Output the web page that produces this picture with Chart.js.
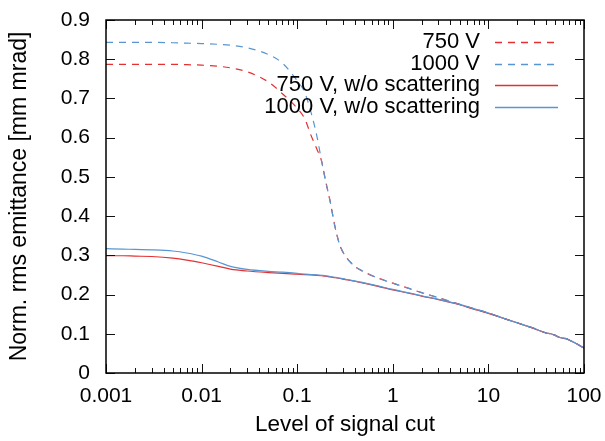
<!DOCTYPE html>
<html>
<head>
<meta charset="utf-8">
<title>Normalized rms emittance vs. signal cut</title>
<script src="https://cdn.jsdelivr.net/npm/chart.js@4/dist/chart.umd.min.js"></script>
<style>
  html, body { margin: 0; padding: 0; background: #fff; }
  #wrap { width: 605px; height: 441px; }
</style>
</head>
<body>
<div id="wrap"><canvas id="c" width="605" height="441"></canvas></div>
<script>
// Level of signal cut (x, log scale)
const cutLevels = [0.001, 0.0015, 0.002, 0.003, 0.005, 0.007, 0.01, 0.015, 0.02, 0.03, 0.05, 0.07,
  0.1, 0.12, 0.14, 0.16, 0.18, 0.2, 0.22, 0.25, 0.28, 0.32, 0.4, 0.5, 0.7,
  1, 1.5, 2, 3, 5, 7, 10, 15, 20, 25, 30, 35, 40, 45, 50, 55, 60, 65, 70, 80, 90, 100];

// Normalized rms emittance [mm mrad]
const emit750 = [0.787, 0.787, 0.787, 0.787, 0.787, 0.786, 0.785, 0.782, 0.778, 0.768, 0.742, 0.712,
  0.675, 0.648, 0.605, 0.572, 0.540, 0.485, 0.440, 0.370, 0.325, 0.298, 0.272, 0.258, 0.242,
  0.229, 0.215, 0.205, 0.192, 0.175, 0.164, 0.153, 0.138, 0.128, 0.120, 0.114, 0.107, 0.102, 0.100,
  0.096, 0.091, 0.089, 0.088, 0.084, 0.077, 0.070, 0.063];
const emit1000 = [0.843, 0.843, 0.843, 0.843, 0.842, 0.841, 0.840, 0.838, 0.836, 0.829, 0.812, 0.790,
  0.745, 0.715, 0.663, 0.606, 0.540, 0.485, 0.440, 0.370, 0.325, 0.298, 0.272, 0.258, 0.242,
  0.229, 0.215, 0.205, 0.192, 0.175, 0.164, 0.153, 0.138, 0.128, 0.120, 0.114, 0.107, 0.102, 0.100,
  0.096, 0.091, 0.089, 0.088, 0.084, 0.077, 0.070, 0.064];
const emit750NoScatter = [0.299, 0.299, 0.298, 0.297, 0.293, 0.288, 0.281, 0.272, 0.265, 0.260, 0.256, 0.254,
  0.252, 0.251, 0.250, 0.249, 0.248, 0.247, 0.245, 0.243, 0.241, 0.238, 0.234, 0.229, 0.221,
  0.212, 0.203, 0.196, 0.187, 0.174, 0.163, 0.152, 0.138, 0.128, 0.120, 0.113, 0.107, 0.102, 0.100,
  0.096, 0.091, 0.089, 0.087, 0.084, 0.077, 0.070, 0.063];
const emit1000NoScatter = [0.317, 0.316, 0.315, 0.314, 0.311, 0.306, 0.298, 0.283, 0.272, 0.264, 0.259, 0.257,
  0.254, 0.252, 0.251, 0.250, 0.249, 0.248, 0.246, 0.244, 0.242, 0.239, 0.235, 0.230, 0.222,
  0.213, 0.204, 0.197, 0.188, 0.175, 0.164, 0.153, 0.138, 0.128, 0.120, 0.114, 0.107, 0.102, 0.100,
  0.096, 0.091, 0.089, 0.088, 0.084, 0.077, 0.070, 0.064];

const seriesLabels = ['750 V', '1000 V', '750 V, w/o scattering', '1000 V, w/o scattering'];
const xTickLabels = ['0.001', '0.01', '0.1', '1', '10', '100'];
const yTickLabels = ['0', '0.1', '0.2', '0.3', '0.4', '0.5', '0.6', '0.7', '0.8', '0.9'];

const RED = 'rgb(228,48,48)';
const BLUE = 'rgb(88,150,210)';
const FONT = 'Liberation Sans, Arial, Helvetica, sans-serif';
const DASH = [7, 6];

Chart.defaults.font.family = FONT;
Chart.defaults.font.size = 21;
Chart.defaults.color = '#000';

function pts(ys) {
  return cutLevels.map((x, i) => ({ x: x, y: ys[i] }));
}

function makeSet(label, ys, color, dashed, order) {
  return {
    label: label,
    data: pts(ys),
    borderColor: color,
    backgroundColor: color,
    borderWidth: 1.2,
    borderDash: dashed ? DASH : [],
    pointRadius: 0,
    fill: false,
    cubicInterpolationMode: 'monotone',
    order: order
  };
}

// Frame with inward ticks on all four sides (log minor ticks on x)
const axisFrame = {
  id: 'axisFrame',
  afterDatasetsDraw(chart) {
    const { ctx, chartArea: a, scales: { x, y } } = chart;
    ctx.save();
    ctx.strokeStyle = '#111';
    ctx.lineWidth = 1;
    ctx.beginPath();
    for (let k = -3; k <= 2; k++) {
      for (let m = 1; m <= 9; m++) {
        const v = m * Math.pow(10, k);
        if (v > 100.0001) break;
        const px = Math.round(x.getPixelForValue(v)) + 0.5;
        const len = m === 1 ? 9 : 5;
        ctx.moveTo(px, a.bottom); ctx.lineTo(px, a.bottom - len);
        ctx.moveTo(px, a.top); ctx.lineTo(px, a.top + len);
      }
    }
    yTickLabels.forEach(t => {
      const py = Math.round(y.getPixelForValue(parseFloat(t))) + 0.5;
      ctx.moveTo(a.left, py); ctx.lineTo(a.left + 9, py);
      ctx.moveTo(a.right, py); ctx.lineTo(a.right - 9, py);
    });
    ctx.stroke();
    ctx.strokeStyle = '#000';
    ctx.lineWidth = 1.5;
    ctx.strokeRect(a.left, a.top, a.right - a.left, a.bottom - a.top);
    ctx.restore();
  }
};

// Key in the upper right: right-aligned text followed by a line sample
const keyColors = [RED, BLUE, RED, BLUE];
const keyDashed = [true, true, false, false];
const keyBox = {
  id: 'keyBox',
  afterDraw(chart) {
    const { ctx, chartArea: a } = chart;
    ctx.save();
    ctx.font = '22px ' + FONT;
    ctx.textAlign = 'right';
    ctx.textBaseline = 'middle';
    seriesLabels.forEach((label, i) => {
      const yy = a.top + 22 + i * 21.7;
      ctx.fillStyle = '#000';
      ctx.fillText(label, a.right - 104, yy);
      ctx.strokeStyle = keyColors[i];
      ctx.lineWidth = 1.3;
      ctx.setLineDash(keyDashed[i] ? DASH : []);
      ctx.beginPath();
      ctx.moveTo(a.right - 89, Math.round(yy) + 0.5);
      ctx.lineTo(a.right - 26, Math.round(yy) + 0.5);
      ctx.stroke();
    });
    ctx.restore();
  }
};

new Chart(document.getElementById('c'), {
  type: 'line',
  data: {
    datasets: [
      makeSet(seriesLabels[0], emit750, RED, true, 3),
      makeSet(seriesLabels[1], emit1000, BLUE, true, 2),
      makeSet(seriesLabels[2], emit750NoScatter, RED, false, 1),
      makeSet(seriesLabels[3], emit1000NoScatter, BLUE, false, 0)
    ]
  },
  options: {
    responsive: false,
    animation: false,
    devicePixelRatio: 1,
    layout: { padding: { top: 20, right: 21, left: 0, bottom: 0 } },
    plugins: { legend: { display: false }, tooltip: { enabled: false } },
    scales: {
      x: {
        type: 'logarithmic',
        min: 0.001,
        max: 100,
        grid: { display: false, drawTicks: false },
        border: { display: false },
        afterBuildTicks: s => { s.ticks = xTickLabels.map(t => ({ value: parseFloat(t) })); },
        afterFit: s => { s.height = 68; s.paddingLeft = 0; s.paddingRight = 0; },
        ticks: {
          autoSkip: false,
          maxRotation: 0,
          padding: 11,
          callback: (v, i) => xTickLabels[i]
        },
        title: { display: true, text: 'Level of signal cut', font: { size: 22.5 }, padding: { top: 0, bottom: 3 } }
      },
      y: {
        type: 'linear',
        min: 0,
        max: 0.9,
        grid: { display: false, drawTicks: false },
        border: { display: false },
        afterBuildTicks: s => { s.ticks = yTickLabels.map(t => ({ value: parseFloat(t) })); },
        afterFit: s => { s.width = 106; s.paddingTop = 0; s.paddingBottom = 0; },
        ticks: {
          autoSkip: false,
          padding: 16,
          callback: (v, i) => yTickLabels[i]
        },
        title: { display: true, text: 'Norm. rms emittance [mm mrad]', font: { size: 23 }, padding: { top: 6, bottom: 0 } }
      }
    }
  },
  plugins: [axisFrame, keyBox]
});
</script>
</body>
</html>
